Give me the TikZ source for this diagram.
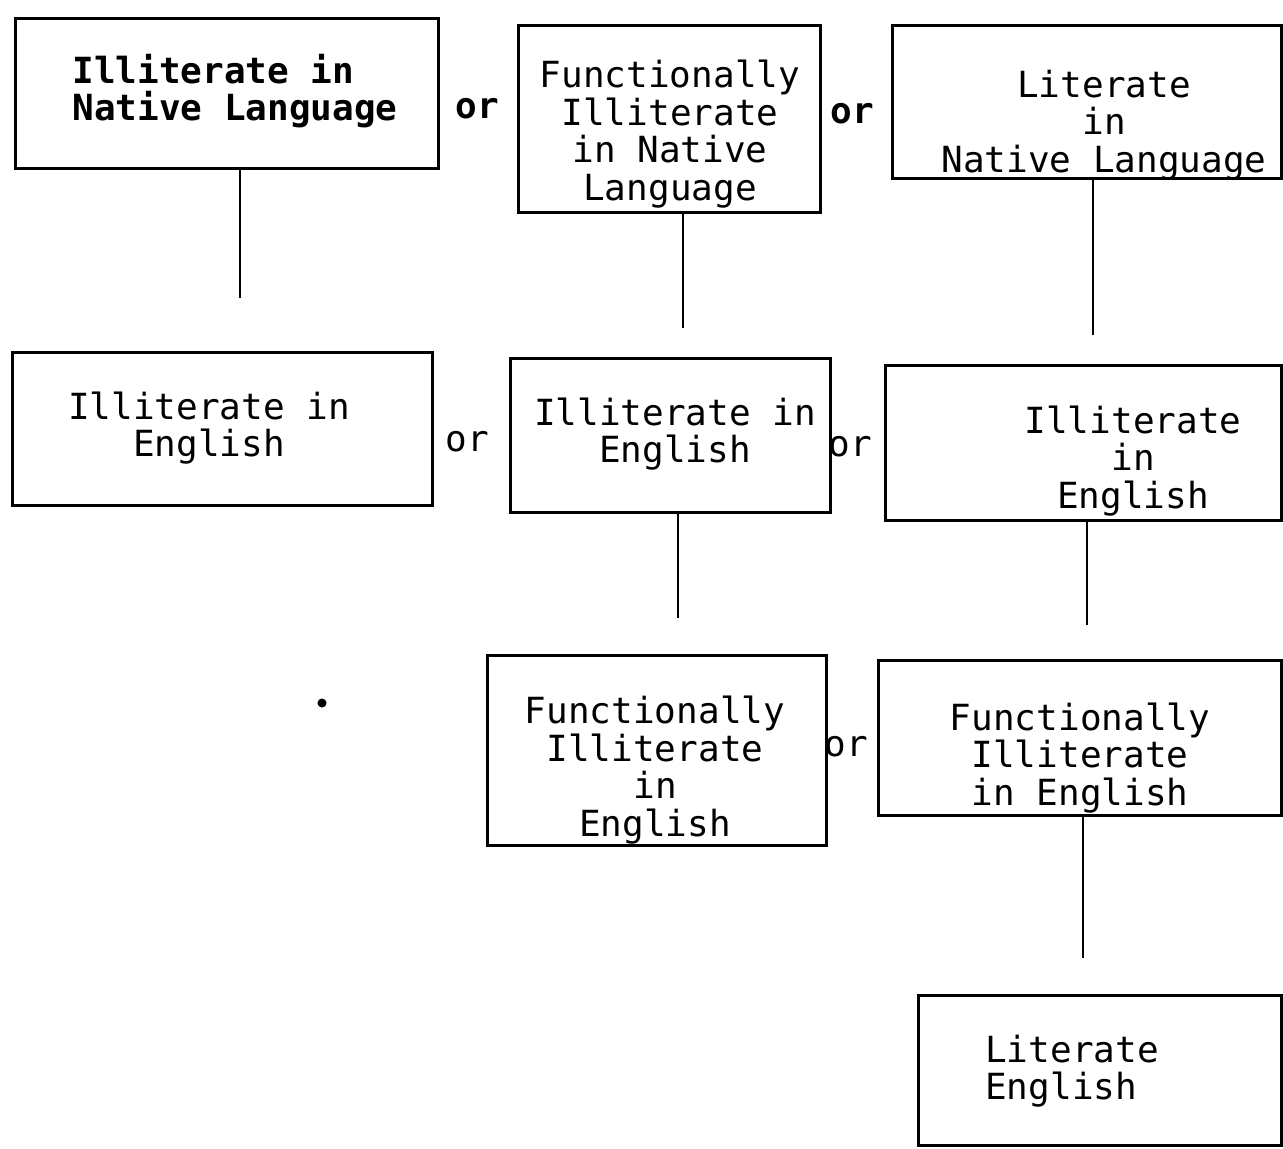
\documentclass[tikz,border=0pt]{standalone}
\usepackage{fontspec}
\setmonofont{DejaVu Sans Mono}
\usepackage{tikz}
\usetikzlibrary{positioning, fit}

\begin{document}
\begin{tikzpicture}
    [
        x=0.5pt, y=-0.5pt,
        box/.style={draw, line width=1.5pt, inner sep=0pt, fit={#1}},
        txt/.style={font=\ttfamily\fontsize{18pt}{18.8pt}\selectfont, align=center, inner sep=0pt},
        boldtxt/.style={txt, font=\ttfamily\bfseries\fontsize{18pt}{18.8pt}\selectfont},
        link/.style={line width=1.1pt},
    ]
    \useasboundingbox (0,0) rectangle (1283,1148);

    % first row
    \node[box={(15,18) (438,168)}] (A) {};
    \node[boldtxt, align=left] (Atxt) at (235,91) {Illiterate in\\Native Language};
    \node[box={(518,25) (820,212)}] (B) {};
    \node[txt] (Btxt) at (670,134) {Functionally\\Illiterate\\in Native\\Language};
    \node[box={(892,25) (1281,178)}] (C) {};
    \node[txt] (Ctxt) at (1104,125) {Literate\\in\\Native Language};
    \node[boldtxt] (or1) at (477,109) {or};
    \node[boldtxt] (or2) at (852,114) {or};

    % second row
    \node[box={(12,352) (432,505)}] (D) {};
    \node[txt] (Dtxt) at (209,428) {Illiterate in\\English};
    \node[box={(510,358) (830,512)}] (E) {};
    \node[txt] (Etxt) at (675,434) {Illiterate in\\English};
    \node[box={(885,365) (1281,520)}] (F) {};
    \node[txt] (Ftxt) at (1133,461) {Illiterate\\in\\English};
    \node[txt] (or3) at (467,442) {or};
    \node[txt] (or4) at (850,447) {or};

    % third row
    \node[box={(487,655) (826,845)}] (G) {};
    \node[txt] (Gtxt) at (655,770) {Functionally\\Illiterate\\in\\English};
    \node[box={(878,660) (1281,815)}] (H) {};
    \node[txt] (Htxt) at (1080,758) {Functionally\\Illiterate\\in English};
    \node[txt] (or5) at (846,747) {or};
    \node[circle, fill, inner sep=1.6pt] (speck) at (322,703) {};

    % last box
    \node[box={(918,995) (1281,1145)}] (I) {};
    \node[txt, align=left] (Itxt) at (1072,1071) {Literate\\English};

    % connectors
    \coordinate (a1) at (240,298);
    \coordinate (b1) at (683,328);
    \coordinate (c1) at (1093,335);
    \coordinate (e1) at (678,618);
    \coordinate (f1) at (1087,625);
    \coordinate (h1) at (1083,958);
    \draw[link] (A.south -| a1) -- (a1);
    \draw[link] (B.south -| b1) -- (b1);
    \draw[link] (C.south -| c1) -- (c1);
    \draw[link] (E.south -| e1) -- (e1);
    \draw[link] (F.south -| f1) -- (f1);
    \draw[link] (H.south -| h1) -- (h1);
\end{tikzpicture}
\end{document}
